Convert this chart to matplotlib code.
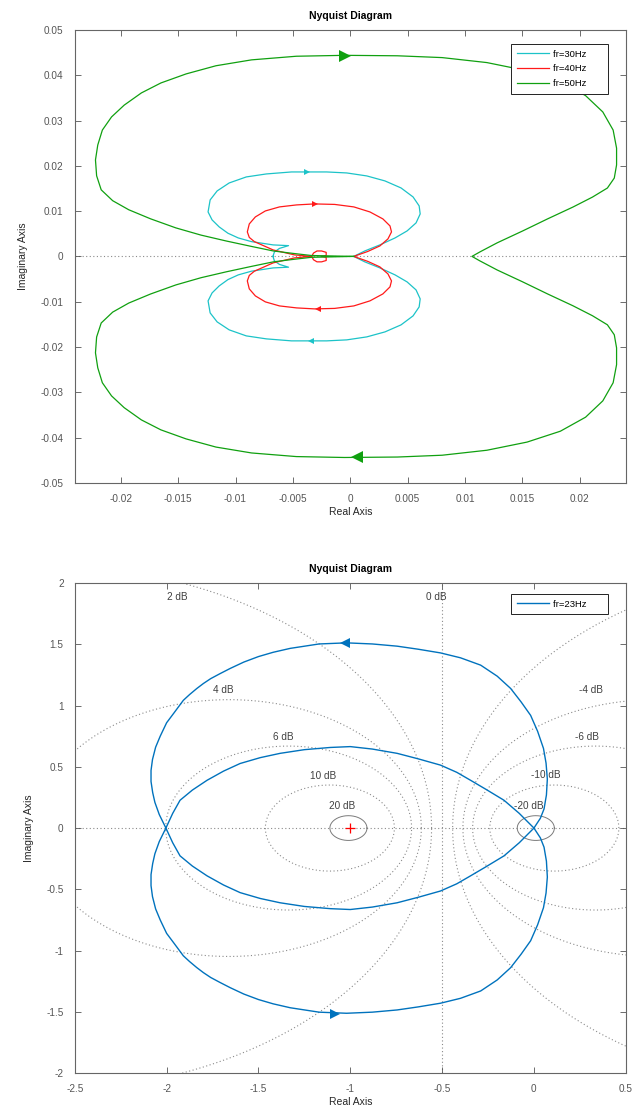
import numpy as np
import matplotlib
matplotlib.use("Agg")
import matplotlib.pyplot as plt

plt.rcParams['font.family'] = ['Liberation Sans', 'DejaVu Sans']
plt.rcParams['axes.unicode_minus'] = False

# ---- top plot: upper halves of the Nyquist curves (lower half = mirror) ----
fr30_re = [-0.00674, -0.00661, -0.00617, -0.00538, -0.00672, -0.00862, -0.00976, -0.01066,
           -0.01142, -0.01204, -0.01239, -0.01221, -0.01160, -0.01055, -0.00906, -0.00731,
           -0.00512, -0.00381, -0.00206, -0.00031, 0.00144, 0.00302, 0.00442, 0.00547,
           0.00600, 0.00609, 0.00573, 0.00495, 0.00390, 0.00258, 0.00127, 0.0003]
fr30_im = [0.0, 0.00099, 0.00177, 0.00238, 0.00254, 0.00327, 0.00408, 0.00512,
           0.00651, 0.00806, 0.00982, 0.01247, 0.01446, 0.01622, 0.01755, 0.01821,
           0.01865, 0.01865, 0.01865, 0.01843, 0.01777, 0.01667, 0.01512, 0.01313,
           0.01115, 0.00938, 0.00740, 0.00563, 0.00408, 0.00254, 0.00121, 0.0]

fr40_re = [-0.0025, -0.0021, -0.0021, -0.0025, -0.0029, -0.0032, -0.00337, -0.00486,
           -0.00672, -0.00836, -0.00880, -0.00897, -0.00880, -0.00827, -0.00740, -0.00617,
           -0.00468, -0.00311, -0.00136, 0.00031, 0.00171, 0.00284, 0.00346, 0.00359,
           0.00328, 0.00258, 0.00153, 0.0003]
fr40_im = [0.0, 0.0002, 0.0009, 0.0012, 0.0012, 0.00075, 0.0, 0.00033,
           0.00143, 0.00327, 0.00420, 0.00541, 0.00717, 0.00872, 0.01004, 0.01093,
           0.01137, 0.01159, 0.01148, 0.01093, 0.00982, 0.00828, 0.00673, 0.00541,
           0.00386, 0.00232, 0.00110, 0.0]

fr50_re = [0.0003, -0.0016, -0.0034, -0.0051, -0.0067, -0.0086, -0.0108, -0.0130,
           -0.0152, -0.0174, -0.0193, -0.0207, -0.0217, -0.0221, -0.0222, -0.0220,
           -0.0216, -0.0208, -0.0197, -0.0182, -0.0165, -0.0143, -0.0117, -0.0086,
           -0.0047, -0.0005, 0.0041, 0.0080, 0.0119, 0.0154, 0.0183, 0.0205,
           0.0220, 0.0229, 0.0232, 0.0232, 0.0230, 0.0224, 0.0211, 0.0194,
           0.0172, 0.0150, 0.0128, 0.0113, 0.0106]
fr50_im = [0.0, 0.0001, 0.0002, 0.0007, 0.0012, 0.0022, 0.0034, 0.0047,
           0.0063, 0.0083, 0.0103, 0.0123, 0.0147, 0.0178, 0.0213, 0.0246,
           0.0279, 0.0308, 0.0334, 0.0361, 0.0383, 0.0403, 0.0421, 0.0434,
           0.0442, 0.0444, 0.0443, 0.0439, 0.0428, 0.0410, 0.0386, 0.0355,
           0.0319, 0.0279, 0.0239, 0.0202, 0.0173, 0.0151, 0.0131, 0.0109,
           0.0083, 0.0056, 0.0030, 0.0010, 0.0]

top_labels = ['fr=30Hz', 'fr=40Hz', 'fr=50Hz']
top_colors = ['#1cc3c8', '#ff1a1a', '#10a010']
# arrow heads: top one points right, bottom one points left
top_arrow_x = [-0.0038, -0.0031, -0.0005]
top_arrow_y = [0.01865, 0.01159, 0.0443]
bot_arrow_x = [-0.0034, -0.0028, 0.0006]
bot_arrow_y = [-0.01865, -0.01159, -0.0443]
top_arrow_size = [4.5, 4.5, 9]

top_xticks = [-0.02, -0.015, -0.01, -0.005, 0, 0.005, 0.01, 0.015, 0.02]
top_xticklabels = ['-0.02', '-0.015', '-0.01', '-0.005', '0', '0.005', '0.01', '0.015', '0.02']
top_yticks = [-0.05, -0.04, -0.03, -0.02, -0.01, 0, 0.01, 0.02, 0.03, 0.04, 0.05]
top_yticklabels = ['-0.05', '-0.04', '-0.03', '-0.02', '-0.01', '0', '0.01', '0.02', '0.03', '0.04', '0.05']

# ---- bottom plot: fr=23Hz, positive-frequency loop (other loop = mirror) ----
fr23_re = [0.0, 0.035, 0.055, 0.068, 0.073, 0.066, 0.052, 0.02, -0.018, -0.07,
           -0.127, -0.2, -0.29, -0.4, -0.509, -0.63, -0.745, -0.88, -1.02, -1.17,
           -1.327, -1.42, -1.50, -1.58, -1.654, -1.71, -1.76, -1.80, -1.836, -1.875,
           -1.909, -1.96, -2.0, -2.035, -2.06, -2.077, -2.085, -2.085, -2.076, -2.064,
           -2.04, -2.004, -1.967, -1.927, -1.86, -1.78, -1.69, -1.60, -1.49, -1.382,
           -1.25, -1.109, -1.0, -0.88, -0.745, -0.63, -0.509, -0.42, -0.345, -0.26,
           -0.163, -0.08, 0.0]
fr23_im = [0.0, 0.08, 0.156, 0.27, 0.40, 0.53, 0.65, 0.79, 0.92, 1.03,
           1.14, 1.24, 1.33, 1.39, 1.43, 1.46, 1.485, 1.503, 1.512, 1.503,
           1.467, 1.435, 1.40, 1.355, 1.303, 1.26, 1.22, 1.18, 1.139, 1.09,
           1.043, 0.94, 0.86, 0.75, 0.66, 0.56, 0.47, 0.38, 0.29, 0.21,
           0.11, 0.0, -0.12, -0.227, -0.31, -0.39, -0.465, -0.527, -0.575, -0.61,
           -0.64, -0.658, -0.665, -0.645, -0.61, -0.565, -0.514, -0.455, -0.39, -0.315,
           -0.227, -0.12, 0.0]
fr23_arrow_x = [-1.03, -1.082]
fr23_arrow_y = [1.512, -1.522]

mgrid_db = [-20, -10, -6, -4, -2, 0, 2, 4, 6, 10, 20]
db_text = ['2 dB', '0 dB', '4 dB', '6 dB', '10 dB', '20 dB', '-4 dB', '-6 dB', '-10 dB', '-20 dB']
db_text_x = [-1.944, -0.53, -1.69, -1.365, -1.147, -1.043, 0.31, 0.29, 0.064, -0.03]
db_text_y = [1.885, 1.885, 1.13, 0.746, 0.426, 0.18, 1.13, 0.746, 0.434, 0.18]

bot_xticks = [-2.5, -2, -1.5, -1, -0.5, 0, 0.5]
bot_xticklabels = ['-2.5', '-2', '-1.5', '-1', '-0.5', '0', '0.5']
bot_yticks = [-2, -1.5, -1, -0.5, 0, 0.5, 1, 1.5, 2]
bot_yticklabels = ['-2', '-1.5', '-1', '-0.5', '0', '0.5', '1', '1.5', '2']

DOT = (0, (1, 2.2))
GRID_C = '#8a8a8a'


def style_axes(ax, xt, xtl, yt, ytl):
    ax.set_xticks(xt)
    ax.set_xticklabels(xtl)
    ax.set_yticks(yt)
    ax.set_yticklabels(ytl)
    ax.tick_params(direction='in', top=True, right=True, length=4, width=0.6,
                   color='#555555', labelcolor='#555555', labelsize=7.2, pad=8)
    for s in ax.spines.values():
        s.set_color('#666666')
        s.set_linewidth(0.8)
    ax.set_title('Nyquist Diagram', fontsize=7.5, fontweight='bold', pad=8)
    ax.set_xlabel('Real Axis', fontsize=7.5, color='#262626', labelpad=2)
    ax.set_ylabel('Imaginary Axis', fontsize=7.5, color='#262626', labelpad=9)


def mirror_path(re, im):
    re = np.array(re)
    im = np.array(im)
    return np.concatenate([re, re[::-1]]), np.concatenate([im, -im[::-1]])


def draw_mcircles(ax):
    t = np.linspace(0, 2 * np.pi, 600)
    for db in mgrid_db:
        if db == 0:
            ax.axvline(-0.5, color=GRID_C, lw=0.8, ls=DOT, zorder=1)
            continue
        m2 = 10 ** (db / 10)
        c = -m2 / (m2 - 1)
        r = abs(np.sqrt(m2) / (m2 - 1))
        if abs(db) == 20:
            ax.plot(c + r * np.cos(t), r * np.sin(t), color='#7a7a7a', lw=0.7, zorder=1)
        else:
            ax.plot(c + r * np.cos(t), r * np.sin(t), color=GRID_C, lw=0.8, ls=DOT, zorder=1)
    for txt, x, y in zip(db_text, db_text_x, db_text_y):
        ax.text(x, y, txt, fontsize=7.2, color='#404040', ha='center', va='center')


def add_legend(ax, anchor):
    # matlab legends leave a wide margin on the right of the text
    handles, labels = ax.get_legend_handles_labels()
    labels = [lab + '      ' for lab in labels]
    leg = ax.legend(handles, labels, loc='upper right', bbox_to_anchor=anchor,
                    borderaxespad=0, fontsize=6.8, fancybox=False, edgecolor='#222222',
                    framealpha=1, handlelength=3.4, handletextpad=0.4,
                    labelspacing=0.6, borderpad=0.6)
    leg.get_frame().set_linewidth(0.7)


fig = plt.figure(figsize=(6.34, 11.10), dpi=100)

# top chart
ax1 = fig.add_axes([0.118, 0.565, 0.869, 0.408])
ax1.axhline(0, color=GRID_C, lw=0.8, ls=DOT, zorder=1)
curves = [(fr30_re, fr30_im), (fr40_re, fr40_im), (fr50_re, fr50_im)]
for i, (re, im) in enumerate(curves):
    col = top_colors[i]
    ms = top_arrow_size[i]
    x, y = mirror_path(re, im)
    ax1.plot(x, y, color=col, lw=0.9, label=top_labels[i], zorder=3)
    ax1.plot(top_arrow_x[i], top_arrow_y[i], marker='>', color=col, ms=ms, mew=0, zorder=4)
    ax1.plot(bot_arrow_x[i], bot_arrow_y[i], marker='<', color=col, ms=ms, mew=0, zorder=4)
ax1.set_xlim(-0.024, 0.024)
ax1.set_ylim(-0.05, 0.05)
style_axes(ax1, top_xticks, top_xticklabels, top_yticks, top_yticklabels)
add_legend(ax1, (0.967, 0.969))

# bottom chart
ax2 = fig.add_axes([0.118, 0.0333, 0.869, 0.4414])
ax2.axhline(0, color=GRID_C, lw=0.8, ls=DOT, zorder=1)
draw_mcircles(ax2)
blue = '#0072bd'
re = np.array(fr23_re)
im = np.array(fr23_im)
ax2.plot(re, im, color=blue, lw=1.0, label='fr=23Hz', zorder=3)
ax2.plot(re[::-1], -im[::-1], color=blue, lw=1.0, zorder=3)
ax2.plot(fr23_arrow_x[0], fr23_arrow_y[0], marker='<', color=blue, ms=7, mew=0, zorder=4)
ax2.plot(fr23_arrow_x[1], fr23_arrow_y[1], marker='>', color=blue, ms=7, mew=0, zorder=4)
ax2.plot(-1, 0, marker='+', color='red', ms=7, mew=0.9, zorder=4)
ax2.set_xlim(-2.5, 0.5)
ax2.set_ylim(-2, 2)
style_axes(ax2, bot_xticks, bot_xticklabels, bot_yticks, bot_yticklabels)
add_legend(ax2, (0.967, 0.978))

fig.savefig('out.png', dpi=100)
plt.close(fig)
